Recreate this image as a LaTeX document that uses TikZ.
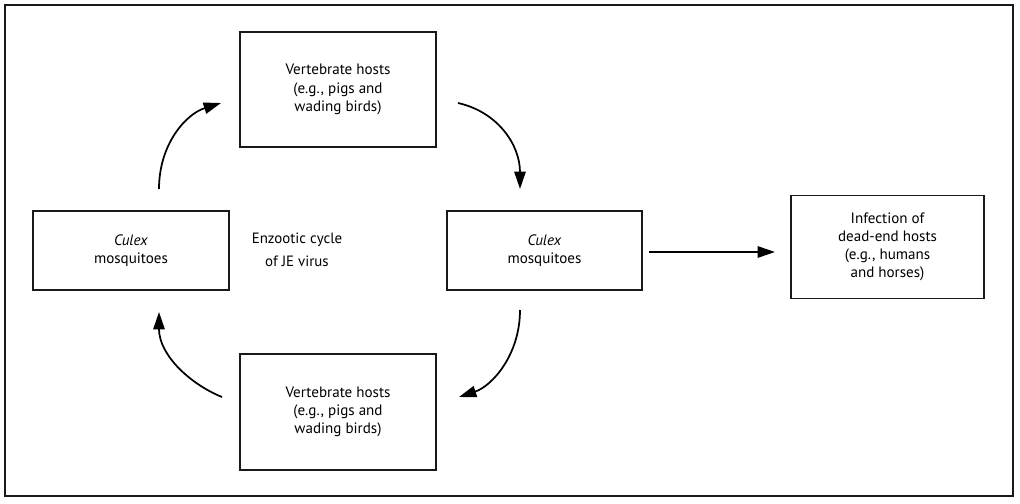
\documentclass[tikz,border=0pt]{standalone}
\usepackage{fontspec}
\setmainfont{PT Sans}
\usetikzlibrary{arrows.meta}
\tikzset{
  box/.style={draw=black!90, line width=1.4pt, align=center, inner sep=0pt,
    font=\fontsize{11.3}{13.6}\selectfont},
  flow/.style={line width=1.3pt, -{Triangle[length=13pt,width=8.5pt]}},
}
\begin{document}
\begin{tikzpicture}[x=0.75pt,y=-0.75pt]
\useasboundingbox (0,0) rectangle (1020,503);
\draw[line width=1.5pt, black!90] (5,5) rectangle (1013,496);
\node[box, minimum width=196*0.75pt, minimum height=115*0.75pt] (top) at (338,89.5)
  {Vertebrate hosts\\(e.g., pigs and\\wading birds)};
\node[box, minimum width=196*0.75pt, minimum height=116*0.75pt] (bot) at (338,412)
  {Vertebrate hosts\\(e.g., pigs and\\wading birds)};
\node[box, minimum width=196*0.75pt, minimum height=79*0.75pt] (left) at (131,250.5)
  {\textit{Culex}\\mosquitoes};
\node[box, minimum width=195*0.75pt, minimum height=79*0.75pt] (mid) at (544.5,250.5)
  {\textit{Culex}\\mosquitoes};
\node[box, minimum width=193*0.75pt, minimum height=103*0.75pt] (right) at (887.5,247)
  {Infection of\\dead-end hosts\\(e.g., humans\\and horses)};
\node[align=center, font=\fontsize{11.2}{17.5}\selectfont] (cyc) at (297,250)
  {Enzootic cycle\\of JE virus};
\coordinate (a1s) at (159,189);
\coordinate (a1e) at (221,103);
\coordinate (a2s) at (458,103);
\coordinate (a2e) at (520,189);
\coordinate (a3s) at (649,252);
\coordinate (a3e) at (775,252);
\coordinate (a4s) at (520,310);
\coordinate (a4e) at (459,397);
\coordinate (a5s) at (222,397);
\coordinate (a5e) at (159,312);
\draw[flow] (a1s) .. controls (159,144) and (186,114) .. (a1e);
\draw[flow] (a2s) .. controls (498,112) and (520,145) .. (a2e);
\draw[flow] (a3s) -- (a3e);
\draw[flow] (a4s) .. controls (520,355) and (492,386) .. (a4e);
\draw[flow] (a5s) .. controls (190,384) and (159,355) .. (a5e);
\end{tikzpicture}
\end{document}
